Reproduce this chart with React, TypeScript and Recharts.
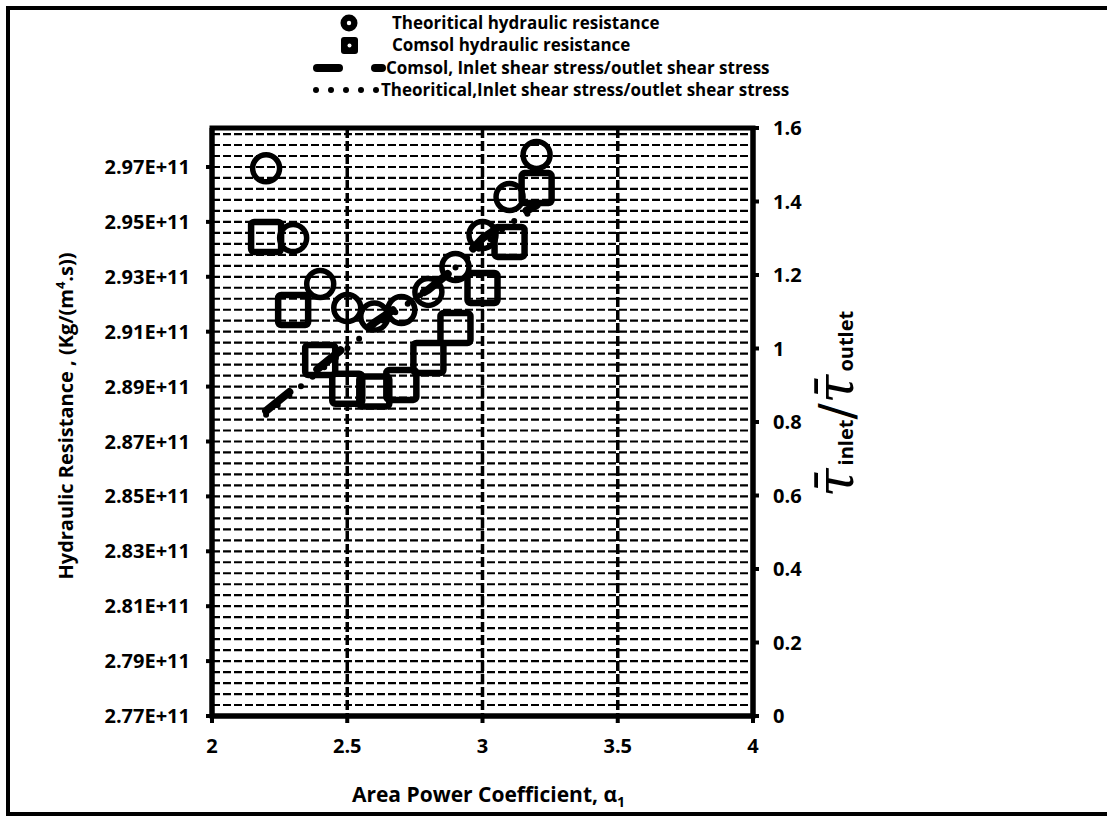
import { CartesianGrid, ComposedChart, Line, ReferenceArea, Scatter, XAxis, YAxis } from "recharts"

// area power coefficient values
const alpha = [2.2, 2.3, 2.4, 2.5, 2.6, 2.7, 2.8, 2.9, 3.0, 3.1, 3.2]
// hydraulic resistance, Kg/(m4.s)
const theoResistance = [2.9695e11, 2.9441e11, 2.9274e11, 2.9186e11, 2.9155e11, 2.9179e11, 2.9245e11, 2.9336e11, 2.9452e11, 2.9591e11, 2.9744e11]
const comsolResistance = [2.9445e11, 2.9179e11, 2.8997e11, 2.8892e11, 2.8882e11, 2.8906e11, 2.9004e11, 2.9113e11, 2.9259e11, 2.9427e11, 2.9623e11]
// inlet / outlet shear stress
const comsolRatio = [0.83, 0.89, 0.95, 1.01, 1.07, 1.12, 1.16, 1.22, 1.30, 1.35, 1.39]
const theoRatio = [0.82, 0.88, 0.94, 1.0, 1.06, 1.11, 1.16, 1.22, 1.28, 1.34, 1.38]

const xTicks = [2, 2.5, 3, 3.5, 4]
const leftTicks = [2.77e11, 2.79e11, 2.81e11, 2.83e11, 2.85e11, 2.87e11, 2.89e11, 2.91e11, 2.93e11, 2.95e11, 2.97e11]
const rightTicks = [0, 0.2, 0.4, 0.6, 0.8, 1, 1.2, 1.4, 1.6]
const leftDomain = [2.77e11, 2.9842e11]
// minor gridlines every 0.004E+11
const minorTicks = Array.from({ length: 54 }, (_, i) => 2.77e11 + i * 0.004e11)

const data = alpha.map((x, i) => ({
    x,
    theoR: theoResistance[i],
    comsolR: comsolResistance[i],
    comsolRatio: comsolRatio[i],
    theoRatio: theoRatio[i],
}))

const FONT = "'Open Sans', Lato, sans-serif"
const tickStyle = { fill: "#000", fontSize: 20, fontWeight: 700, fontFamily: FONT }

const CircleMark = (props: any) => (
    <circle cx={props.cx} cy={props.cy} r={13.5} fill="none" stroke="#000" strokeWidth={5.5} />
)
const SquareMark = (props: any) => (
    <rect x={props.cx - 15} y={props.cy - 15} width={30} height={30} rx={3} fill="none" stroke="#000" strokeWidth={6.5} />
)

const LeftTitle = (props: any) => {
    const { x, y, height } = props.viewBox
    return (
        <text transform={`translate(${x + 11},${y + height / 2 - 6}) rotate(-90)`} textAnchor="middle" fontFamily={FONT} fontWeight={700} fontSize={20} fill="#000">
            Hydraulic Resistance , (Kg/(m<tspan fontSize={13} dy={-8}>4</tspan><tspan dy={8}>.s))</tspan>
        </text>
    )
}

const RightTitle = (props: any) => {
    const { x, y, height } = props.viewBox
    return (
        <text transform={`translate(${x + 100},${y + height / 2 - 18}) rotate(-90)`} textAnchor="middle" fontFamily={FONT} fill="#000">
            <tspan fontSize={52} fontStyle="italic" fontFamily="'DejaVu Serif', serif">τ̄</tspan>
            <tspan fontSize={20} fontWeight={700} dx={3}>inlet</tspan>
            <tspan fontSize={48} fontFamily="'DejaVu Sans', sans-serif">/</tspan>
            <tspan fontSize={52} fontStyle="italic" fontFamily="'DejaVu Serif', serif">τ̄</tspan>
            <tspan fontSize={20} fontWeight={700} dx={3}>outlet</tspan>
        </text>
    )
}

const BottomTitle = (props: any) => {
    const { x, y, width } = props.viewBox
    return (
        <text x={x + width / 2 + 6} y={y + 86} textAnchor="middle" fontFamily={FONT} fontWeight={700} fontSize={21} fill="#000">
            Area Power Coefficient, α<tspan fontSize={14} dy={5}>1</tspan>
        </text>
    )
}

const LegendBox = () => (
    <svg width={1107} height={120} style={{ position: "absolute", left: 0, top: 0 }}>
        <g fontFamily={FONT} fontWeight={700} fontSize={17} fill="#000">
            <circle cx={349} cy={23} r={8.5} fill="#000" />
            <circle cx={349} cy={23} r={2.2} fill="#fff" />
            <text x={392} y={29}>Theoritical hydraulic resistance</text>

            <rect x={341} y={37} width={17} height={17} rx={3} fill="#000" />
            <circle cx={349.5} cy={45.5} r={2} fill="#fff" />
            <text x={392} y={51}>Comsol hydraulic resistance</text>

            <line x1={317} y1={68} x2={339} y2={68} stroke="#000" strokeWidth={8} strokeLinecap="round" />
            <line x1={375} y1={68} x2={382} y2={68} stroke="#000" strokeWidth={8} strokeLinecap="round" />
            <text x={386} y={74}>Comsol, Inlet shear stress/outlet shear stress</text>

            {[316, 331, 346, 361, 376].map((cx) => (
                <circle key={cx} cx={cx} cy={90} r={3} fill="#000" />
            ))}
            <text x={381} y={96}>Theoritical,Inlet shear stress/outlet shear stress</text>
        </g>
    </svg>
)

const App = () => {
    return (
        <div style={{ position: "absolute", left: 0, top: 0, width: 1107, height: 817, overflow: "hidden", background: "#fff" }}>
            <div style={{ position: "absolute", left: 6, top: 6, width: 1200, height: 810, border: "4px solid #000", boxSizing: "border-box" }} />
            <ComposedChart
                width={1107}
                height={817}
                data={data}
                margin={{ top: 128, right: 294, bottom: 61, left: 62 }}
                style={{ position: "absolute", left: 0, top: 0 }}
            >
                <CartesianGrid yAxisId="minor" vertical={false} stroke="#000" strokeWidth={2.2} strokeDasharray="8 3" />
                <CartesianGrid yAxisId="left" horizontal={false} stroke="#000" strokeWidth={3.5} strokeDasharray="10 3" />
                <XAxis
                    dataKey="x"
                    type="number"
                    domain={[2, 4]}
                    ticks={xTicks}
                    interval={0}
                    height={40}
                    axisLine={{ stroke: "#000", strokeWidth: 5 }}
                    tickLine={{ stroke: "#000", strokeWidth: 4 }}
                    tickSize={7}
                    tickMargin={16}
                    tick={tickStyle}
                    label={<BottomTitle />}
                />
                <YAxis
                    yAxisId="left"
                    type="number"
                    domain={leftDomain}
                    allowDataOverflow
                    ticks={leftTicks}
                    interval={0}
                    width={150}
                    tickFormatter={(v: number) => (v / 1e11).toFixed(2) + "E+11"}
                    axisLine={{ stroke: "#000", strokeWidth: 5 }}
                    tickLine={{ stroke: "#000", strokeWidth: 4 }}
                    tickSize={6}
                    tickMargin={16}
                    tick={tickStyle}
                    label={<LeftTitle />}
                />
                <YAxis
                    yAxisId="minor"
                    type="number"
                    domain={leftDomain}
                    allowDataOverflow
                    ticks={minorTicks}
                    interval={0}
                    hide
                />
                <YAxis
                    yAxisId="right"
                    orientation="right"
                    type="number"
                    domain={[0, 1.6]}
                    ticks={rightTicks}
                    interval={0}
                    width={60}
                    axisLine={{ stroke: "#000", strokeWidth: 5 }}
                    tickLine={{ stroke: "#000", strokeWidth: 4 }}
                    tickSize={6}
                    tickMargin={14}
                    tick={tickStyle}
                    label={<RightTitle />}
                />
                <ReferenceArea x1={2} x2={4} y1={0} y2={1.6} yAxisId="right" fill="none" fillOpacity={0} stroke="#000" strokeWidth={5} />
                <Scatter yAxisId="left" dataKey="comsolR" shape={<SquareMark />} isAnimationActive={false} />
                <Scatter yAxisId="left" dataKey="theoR" shape={<CircleMark />} isAnimationActive={false} />
                <Line
                    yAxisId="right"
                    type="linear"
                    dataKey="theoRatio"
                    stroke="#000"
                    strokeWidth={6}
                    strokeDasharray="0 15"
                    strokeLinecap="round"
                    dot={false}
                    activeDot={false}
                    isAnimationActive={false}
                />
                <Line
                    yAxisId="right"
                    type="linear"
                    dataKey="comsolRatio"
                    stroke="#000"
                    strokeWidth={8}
                    strokeDasharray="30 36"
                    strokeLinecap="round"
                    dot={false}
                    activeDot={false}
                    isAnimationActive={false}
                />
            </ComposedChart>
            <LegendBox />
        </div>
    )
}

export default App
